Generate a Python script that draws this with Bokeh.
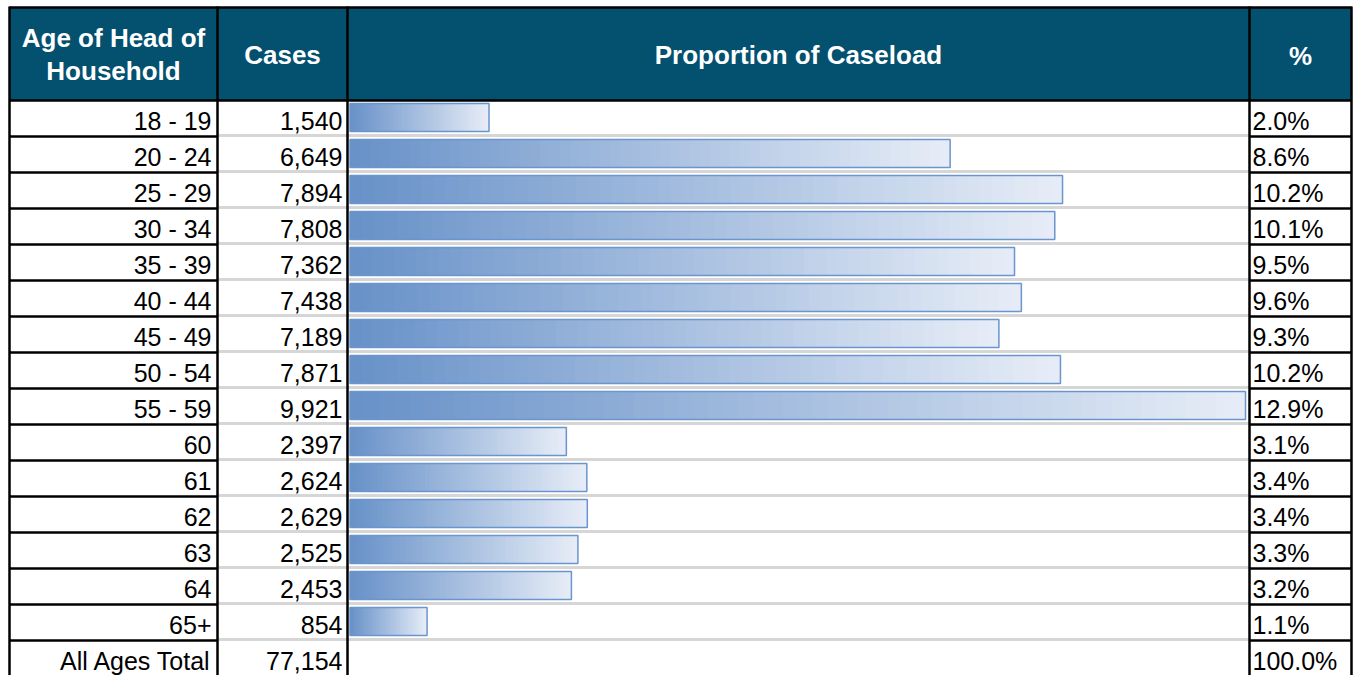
from bokeh.plotting import figure
from bokeh.models import Range1d, ColumnDataSource
from bokeh.embed import file_html
from bokeh.resources import INLINE
from bokeh.core.properties import value

# ---------------- data ----------------
ages = ["18 - 19", "20 - 24", "25 - 29", "30 - 34", "35 - 39", "40 - 44", "45 - 49",
        "50 - 54", "55 - 59", "60", "61", "62", "63", "64", "65+"]
cases = [1540, 6649, 7894, 7808, 7362, 7438, 7189, 7871, 9921, 2397, 2624, 2629, 2525, 2453, 854]
percent = [2.0, 8.6, 10.2, 10.1, 9.5, 9.6, 9.3, 10.2, 12.9, 3.1, 3.4, 3.4, 3.3, 3.2, 1.1]
total_label = "All Ages Total"
total_cases = 77154
total_percent = 100.0
header_age = ["Age of Head of", "Household"]
header_cases = "Cases"
header_bar = "Proportion of Caseload"
header_pct = "%"

# ---------------- layout (page pixels) ----------------
W, H = 1353, 675
X0, Y0 = 0, 0
COLS = [9, 217, 347, 1249, 1351]
HEAD_TOP, HEAD_BOT = 7, 100
ROW_H = 36
BAR_X0, BAR_XMAX = 349.5, 1245.0
FONT = "Liberation Sans"
FS = "25px"
HFS = "26px"
HEAD_COLOR = "#03506f"
GRAD_L = (103, 145, 200)
GRAD_R = (231, 237, 247)
BAR_LINE = "#6a95cd"
SEP_GRAY = "#d6d6d6"

p = figure(width=W, height=H, output_backend="svg", toolbar_location=None,
           x_range=Range1d(X0, X0 + W), y_range=Range1d(Y0 + H, Y0),
           x_axis_location=None, y_axis_location=None, min_border=0)
p.grid.visible = False
p.outline_line_color = None
p.background_fill_color = "white"
p.border_fill_color = "white"

cpp = max(cases) / (BAR_XMAX - BAR_X0)
p.extra_x_ranges = {"cases": Range1d(-(BAR_X0 - X0) * cpp, (X0 + W - BAR_X0) * cpp)}
p.extra_y_ranges = {"rows": Range1d((Y0 + H - HEAD_BOT) / ROW_H, (Y0 - HEAD_BOT) / ROW_H)}

n = len(ages)
nrows = n + 1

# header background
p.quad(left=[COLS[0]], right=[COLS[-1]], top=[HEAD_TOP], bottom=[HEAD_BOT],
       fill_color=HEAD_COLOR, line_color=None)

# row separators
ys = [HEAD_BOT + ROW_H * k for k in range(1, nrows)]
p.segment(x0=[COLS[1]] * len(ys), x1=[COLS[3]] * len(ys), y0=[y - 1 for y in ys], y1=[y - 1 for y in ys],
          line_color=SEP_GRAY, line_width=3)
p.segment(x0=[COLS[0]] * len(ys), x1=[COLS[1]] * len(ys), y0=ys, y1=ys,
          line_color="black", line_width=2.5)
p.segment(x0=[COLS[3]] * len(ys), x1=[COLS[4]] * len(ys), y0=ys, y1=ys,
          line_color="black", line_width=2.5)

# gradient bars
N = 60
src = dict(left=[], right=[], top=[], bottom=[], color=[])
for i, v in enumerate(cases):
    for j in range(N):
        t = (j + 0.5) / N
        c = tuple(int(round(a + (b - a) * t)) for a, b in zip(GRAD_L, GRAD_R))
        src["left"].append(v * j / N)
        src["right"].append(v * min(j + 1.6, N) / N)
        src["top"].append(i + 3 / ROW_H)
        src["bottom"].append(i + 31 / ROW_H)
        src["color"].append("#%02x%02x%02x" % c)
p.quad(source=ColumnDataSource(src), left="left", right="right", top="top", bottom="bottom",
       fill_color="color", line_color=None, x_range_name="cases", y_range_name="rows")
p.quad(left=[0] * n, right=cases, top=[i + 3 / ROW_H for i in range(n)],
       bottom=[i + 31 / ROW_H for i in range(n)], fill_color=None, line_color=BAR_LINE,
       line_width=1.5, x_range_name="cases", y_range_name="rows")

# vertical borders
p.segment(x0=COLS, x1=COLS, y0=[HEAD_TOP - 1] * 5, y1=[Y0 + H] * 5, line_color="black", line_width=2.5)
# header horizontal borders
p.segment(x0=[COLS[0]] * 2, x1=[COLS[-1]] * 2, y0=[HEAD_TOP, HEAD_BOT], y1=[HEAD_TOP, HEAD_BOT],
          line_color="black", line_width=2.5)

# header texts
hx = [(COLS[0] + COLS[1]) / 2, (COLS[0] + COLS[1]) / 2, (COLS[1] + COLS[2]) / 2,
      (COLS[2] + COLS[3]) / 2, (COLS[3] + COLS[4]) / 2]
hy = [37, 70, 54, 54, 55]
p.text(x=hx, y=hy, text=header_age + [header_cases, header_bar, header_pct],
       text_font=value(FONT), text_font_size=HFS, text_font_style="bold", text_color="white",
       text_align="center", text_baseline="middle")

# body texts
row_y = [i + 0.5 + 2 / ROW_H for i in range(nrows)]
labels = ages + [total_label]
case_txt = ["{:,}".format(c) for c in cases + [total_cases]]
pct_txt = ["{:.1f}%".format(v) for v in percent + [total_percent]]
p.text(x=[COLS[1] - 6] * nrows, y=row_y, text=labels, y_range_name="rows",
       text_font=value(FONT), text_font_size=FS, text_color="black",
       text_align="right", text_baseline="middle")
p.text(x=[COLS[2] - 5] * nrows, y=row_y, text=case_txt, y_range_name="rows",
       text_font=value(FONT), text_font_size=FS, text_color="black",
       text_align="right", text_baseline="middle")
p.text(x=[COLS[3] + 3] * nrows, y=row_y, text=pct_txt, y_range_name="rows",
       text_font=value(FONT), text_font_size=FS, text_color="black",
       text_align="left", text_baseline="middle")

open("out.html", "w").write(file_html(p, INLINE))
